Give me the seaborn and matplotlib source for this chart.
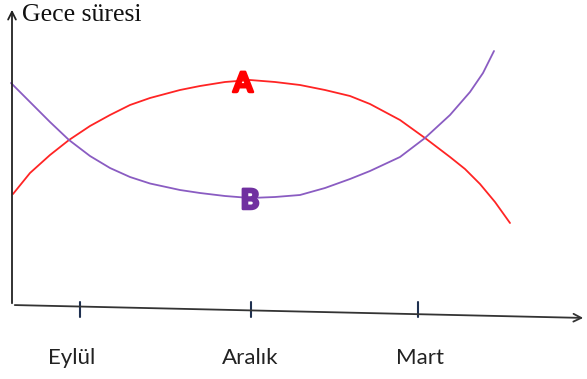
import matplotlib
matplotlib.use("Agg")
import matplotlib.pyplot as plt
import matplotlib.patheffects as pe
import seaborn as sns
import pandas as pd

# ---- data (in picture units) ----
months = ["Eylül", "Aralık", "Mart"]
a_x = [13, 30, 50, 69, 90, 110, 130, 150, 180, 200, 225, 250, 275, 300, 325, 350, 370, 400, 425, 450, 465, 480, 495, 510]
a_y = [194, 173, 155, 140, 126, 115, 105, 98, 90, 86, 82, 80, 82, 85, 90, 96, 104, 120, 138, 157, 169, 184, 202, 223]
b_x = [11, 30, 50, 69, 90, 110, 130, 150, 180, 200, 225, 250, 275, 300, 325, 350, 370, 400, 425, 450, 470, 483, 494]
b_y = [83, 102, 122, 140, 156, 168, 177, 183.5, 190, 193, 196, 198, 197, 195, 188, 179, 171, 157, 138, 115, 92, 73, 51]
y_title = "Gece süresi"

sns.set_theme(style="white")
plt.rcParams["font.family"] = ["DejaVu Sans"]

fig = plt.figure(figsize=(5.87, 3.79), dpi=100)
ax = fig.add_axes([0, 0, 1, 1])
ax.set_xlim(0, 587)
ax.set_ylim(379, 0)
ax.axis("off")

df_a = pd.DataFrame({"x": a_x, "y": a_y})
df_b = pd.DataFrame({"x": b_x, "y": b_y})
sns.lineplot(data=df_a, x="x", y="y", sort=False, color="#FF2424", lw=1.3, ax=ax,
             solid_joinstyle="round", solid_capstyle="round")
sns.lineplot(data=df_b, x="x", y="y", sort=False, color="#8A5CC2", lw=1.3, ax=ax,
             solid_joinstyle="round", solid_capstyle="round")

# axes arrows
ax.annotate("", xy=(12, 7), xytext=(12, 306),
            arrowprops=dict(arrowstyle="->", color="#222222", lw=1.3, mutation_scale=14))
ax.annotate("", xy=(586, 318), xytext=(12, 305),
            arrowprops=dict(arrowstyle="->", color="#333333", lw=1.3, mutation_scale=14))

# ticks and labels
tick_x = [80, 251, 418]
label_x = [72, 250, 420]
for tx, lx, m in zip(tick_x, label_x, months):
    ax.plot([tx, tx], [302, 317], color="#1F3050", lw=1.5)
    ax.text(lx, 358, m, ha="center", va="center", fontsize=16,
            family=["Lato", "DejaVu Sans"], color="#222222")

ax.text(22, 15, y_title, ha="left", va="center", fontsize=18.5,
        family=["Liberation Serif", "DejaVu Serif"], color="#111111")

ax.text(243, 84, "A", ha="center", va="center", fontsize=20, fontweight="black",
        family=["Lato", "DejaVu Sans"], color="#FF0000",
        path_effects=[pe.withStroke(linewidth=1.8, foreground="#FF0000")])
ax.text(250, 201, "B", ha="center", va="center", fontsize=20, fontweight="black",
        family=["Lato", "DejaVu Sans"], color="#7030A0",
        path_effects=[pe.withStroke(linewidth=1.8, foreground="#7030A0")])

fig.savefig("out.png", dpi=100)
